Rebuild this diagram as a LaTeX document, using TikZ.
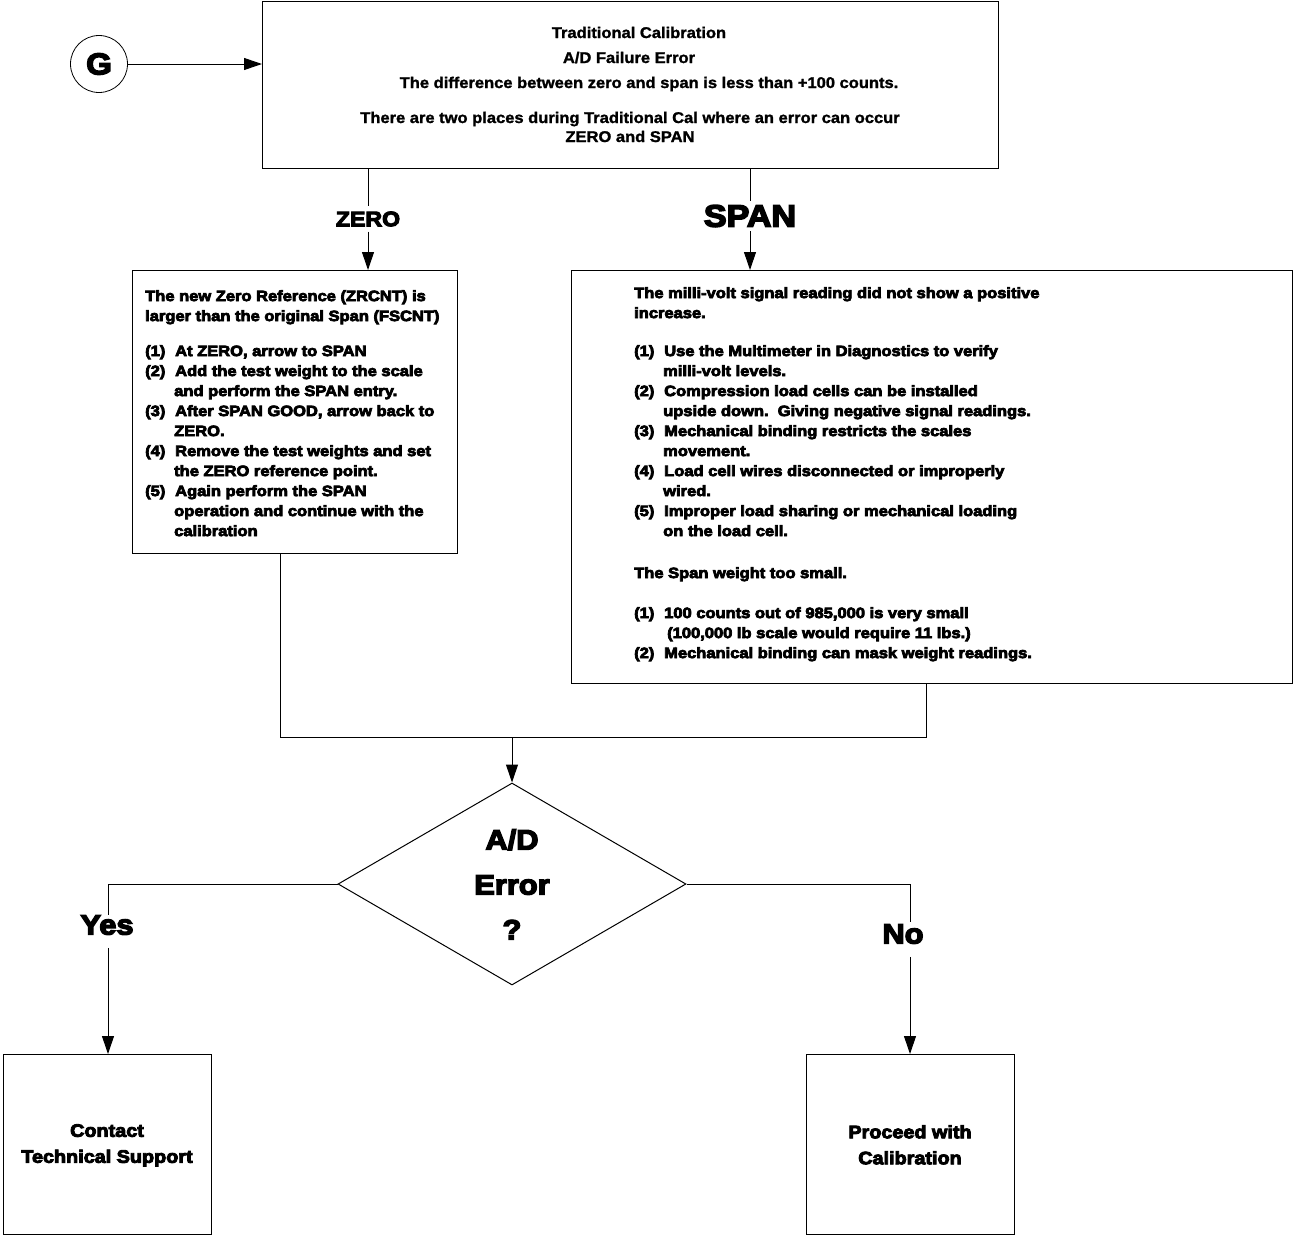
\documentclass[tikz,border=0pt]{standalone}
\usepackage{fontspec}
\setmainfont{Liberation Sans}
\newfontfamily\heavy[FakeBold=5,FakeStretch=1.10]{Liberation Sans Bold}
\newfontfamily\plainbold[FakeStretch=1.065,FakeBold=1.5]{Liberation Sans Bold}
\usetikzlibrary{arrows.meta,shapes.geometric}
\newcommand\itemnum[1]{\makebox[30pt][l]{#1}}
\newcommand\contind{\hspace*{29pt}}
\begin{document}
\begin{tikzpicture}[x=1pt,y=-1pt,
  box/.style={draw,line width=1pt,inner sep=0pt,anchor=north west},
  conn/.style={line width=1pt},
  arr/.style={conn,-{Triangle[length=18pt,width=12pt]}},
  toptext/.style={anchor=base,inner sep=0pt,font=\plainbold\fontsize{15.5}{18}\selectfont},
  bodytext/.style={anchor=north west,inner sep=0pt,align=left,font=\heavy\fontsize{15}{20}\selectfont},
  endtext/.style={anchor=north,inner sep=0pt,align=center,font=\heavy\fontsize{18}{26}\selectfont},
  lbl/.style={inner xsep=2pt,fill=white}]
\useasboundingbox (0,0) rectangle (1293,1237);

% start circle
\node[draw,circle,line width=0.8pt,minimum size=57pt,inner sep=0pt,font=\heavy\fontsize{30}{30}\selectfont] (G) at (99,64) {G};

% top box
\node[box,minimum width=736pt,minimum height=167pt] (top) at (262,1) {};
\node[toptext] (t1) at (639,38) {Traditional Calibration};
\node[toptext] (t2) at (629,63) {A/D Failure Error};
\node[toptext] (t3) at (649,88) {The difference between zero and span is less than +100 counts.};
\node[toptext] (t4) at (630,123) {There are two places during Traditional Cal where an error can occur};
\node[toptext] (t5) at (630,142) {ZERO and SPAN};

% zero box
\node[box,minimum width=325pt,minimum height=283pt] (zbox) at (132,270) {};
\node[bodytext] (ztext) at (145,290) {The new Zero Reference (ZRCNT) is\\
larger than the original Span (FSCNT)\\[15pt]
\itemnum{(1)}At ZERO, arrow to SPAN\\
\itemnum{(2)}Add the test weight to the scale\\
\contind and perform the SPAN entry.\\
\itemnum{(3)}After SPAN GOOD, arrow back to\\
\contind ZERO.\\
\itemnum{(4)}Remove the test weights and set\\
\contind the ZERO reference point.\\
\itemnum{(5)}Again perform the SPAN\\
\contind operation and continue with the\\
\contind calibration};

% span box
\node[box,minimum width=721pt,minimum height=413pt] (sbox) at (571,270) {};
\node[bodytext] (stext) at (634,287) {The milli-volt signal reading did not show a positive\\
increase.\\[18pt]
\itemnum{(1)}Use the Multimeter in Diagnostics to verify\\
\contind milli-volt levels.\\
\itemnum{(2)}Compression load cells can be installed\\
\contind upside down.\ \ Giving negative signal readings.\\
\itemnum{(3)}Mechanical binding restricts the scales\\
\contind movement.\\
\itemnum{(4)}Load cell wires disconnected or improperly\\
\contind wired.\\
\itemnum{(5)}Improper load sharing or mechanical loading\\
\contind on the load cell.\\[22pt]
The Span weight too small.\\[20pt]
\itemnum{(1)}100 counts out of 985,000 is very small\\
\hspace*{33pt}(100,000 lb scale would require 11 lbs.)\\
\itemnum{(2)}Mechanical binding can mask weight readings.};

% decision
\node[draw,diamond,line width=1pt,minimum width=348pt,minimum height=202pt,inner sep=0pt] (dia) at (512,884) {};
\node[anchor=north,inner sep=0pt,align=center,font=\heavy\fontsize{28}{45}\selectfont] (dtext) at (512,829) {A/D\\Error\\?};

% end boxes
\node[box,minimum width=208pt,minimum height=180pt] (cbox) at (3,1054) {};
\node[endtext] (ctext) at (107,1124) {Contact\\Technical Support};
\node[box,minimum width=208pt,minimum height=180pt] (pbox) at (806,1054) {};
\node[endtext] (ptext) at (910,1125) {Proceed with\\Calibration};

% labels
\node[lbl,inner ysep=5pt,font=\heavy\fontsize{21}{21}\selectfont] (zl) at (368,219) {ZERO};
\node[lbl,inner ysep=4pt,font=\heavy\fontsize{31}{31}\selectfont] (sl) at (750,216) {SPAN};
\node[lbl,inner ysep=2pt,font=\heavy\fontsize{28}{28}\selectfont] (yl) at (107,925) {Yes};
\node[lbl,inner ysep=2pt,font=\heavy\fontsize{28}{28}\selectfont] (nl) at (903,934) {No};

% connectors
\draw[arr] (G.east) -- (G.east -| top.west);
\draw[conn] (top.south -| zl) -- (zl.north);
\draw[arr] (zl.south) -- (zbox.north -| zl);
\draw[conn] (top.south -| sl) -- (sl.north);
\draw[arr] (sl.south) -- (sbox.north -| sl);

\coordinate (m1) at (280,737);
\coordinate (m2) at (926,737);
\coordinate (mc) at (512,737);
\draw[conn] (zbox.south -| m1) -- (m1) -- (m2) -- (sbox.south -| m2);
\draw[arr] (mc) -- (dia.north);

\coordinate (yc) at (108,0);
\coordinate (nc) at (910,0);
\draw[conn] (dia.west) -- (dia.west -| yc) -- ([yshift=-2pt]yl.north -| yc);
\draw[arr] ([yshift=-11pt]yl.south -| yc) -- (cbox.north -| yc);
\draw[conn] (dia.east) -- (dia.east -| nc) -- (nl.north -| nc);
\draw[arr] ([yshift=-11pt]nl.south -| nc) -- (pbox.north -| nc);
\end{tikzpicture}
\end{document}
